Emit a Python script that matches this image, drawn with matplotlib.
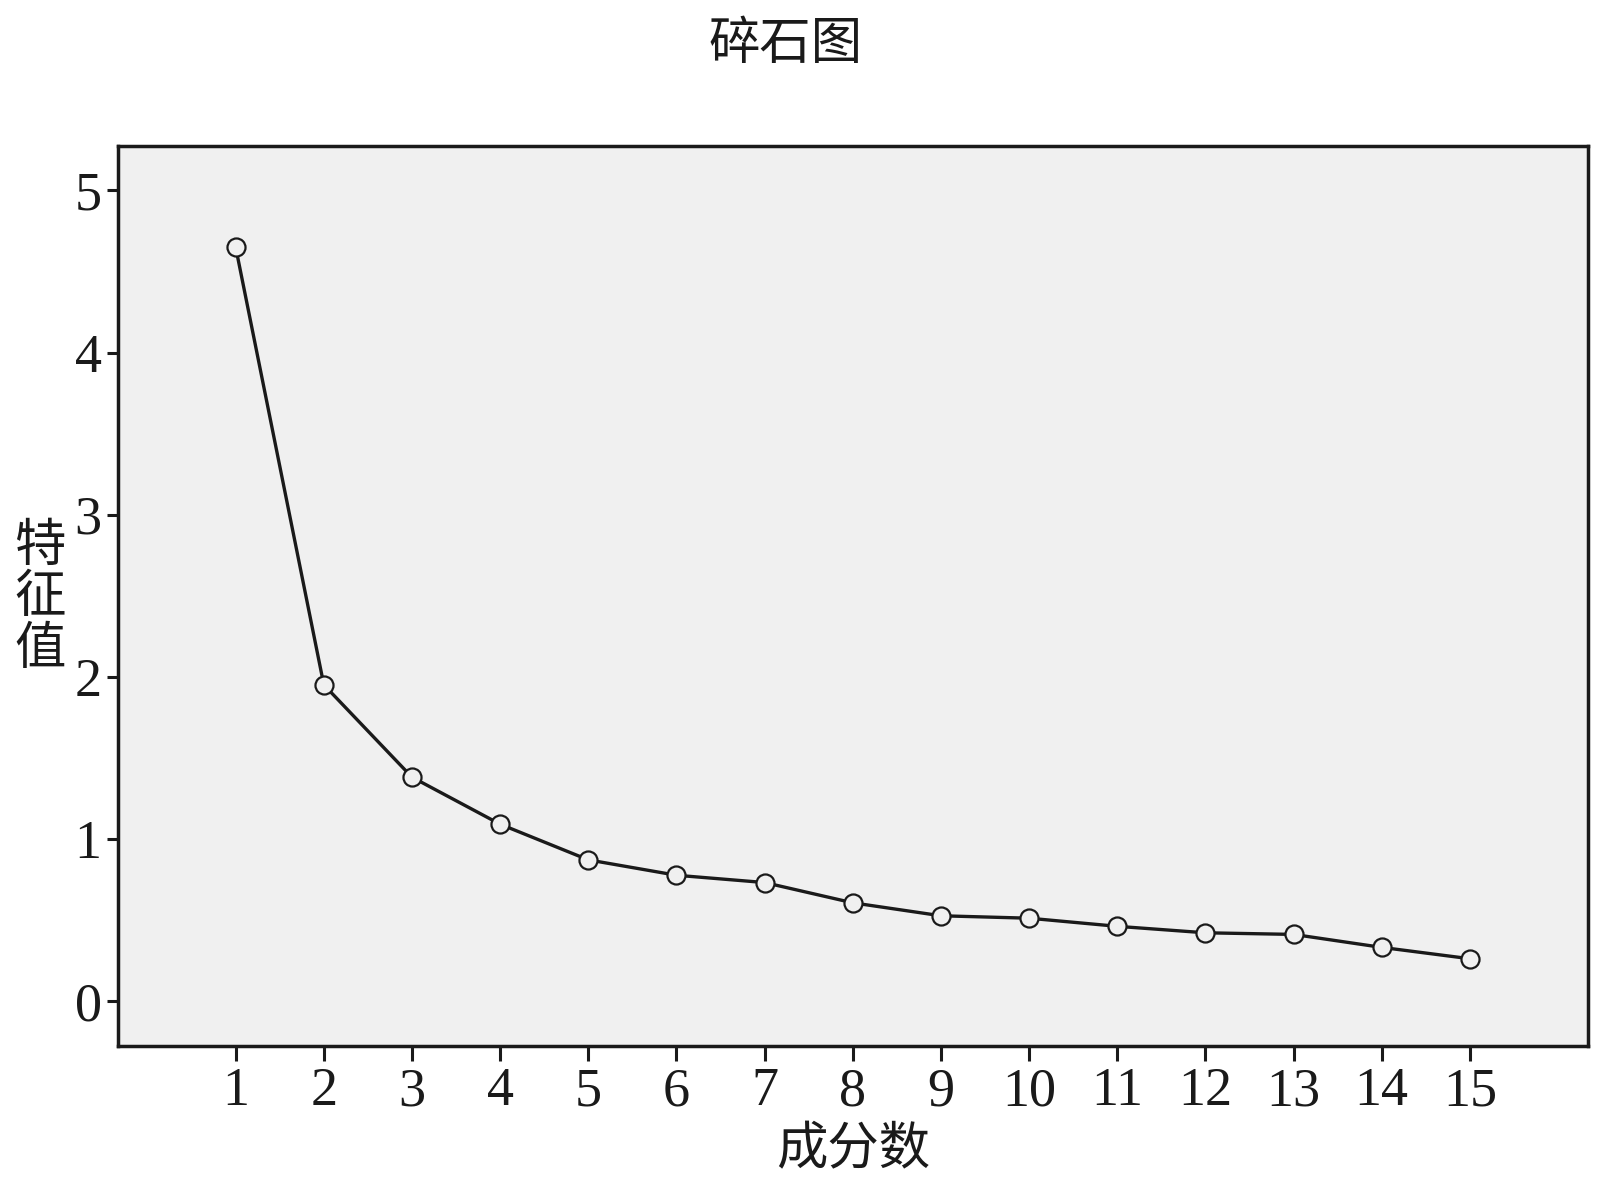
import numpy as np
import matplotlib.pyplot as plt

plt.rcParams['font.family'] = ['Liberation Serif', 'Noto Sans CJK SC', 'DejaVu Sans']

# eigenvalues
components = np.arange(1, 16)
eigenvalues = [4.65, 1.95, 1.38, 1.09, 0.87, 0.775, 0.73, 0.605,
               0.525, 0.51, 0.46, 0.42, 0.41, 0.33, 0.26]
ytick_vals = [0, 1, 2, 3, 4, 5]

fig = plt.figure(figsize=(16, 11.83), dpi=100)
ax = fig.add_axes([0.074, 0.116, 0.9185, 0.761])
ax.set_facecolor('#f0f0f0')

ax.plot(components, eigenvalues, color='#1a1a1a', lw=2.4, marker='o',
        markersize=13, markerfacecolor='#f0f0f0', markeredgecolor='#1a1a1a',
        markeredgewidth=1.6)

ax.set_xlim(-0.33, 16.34)
ax.set_ylim(-0.277, 5.277)
ax.set_xticks(components)
ax.set_yticks(ytick_vals)
ax.tick_params(axis='x', length=11, width=2.2, pad=4, labelsize=39, colors='#1a1a1a')
ax.tick_params(axis='y', length=8, width=2.2, pad=4, labelsize=39, colors='#1a1a1a')
for s in ax.spines.values():
    s.set_linewidth(2.5)
    s.set_color('#1a1a1a')

cjk = dict(family=['Noto Sans CJK SC'], fontweight='light', color='#1a1a1a')
fig.text(0.491, 0.963, '碎石图', ha='center', va='center', fontsize=37, **cjk)
fig.text(0.533, 0.028, '成分数', ha='center', va='center', fontsize=37, **cjk)
fig.text(0.025, 0.495, '特\n征\n值', ha='center', va='center', fontsize=37,
         linespacing=0.95, **cjk)

fig.savefig('out.png', dpi=100)
